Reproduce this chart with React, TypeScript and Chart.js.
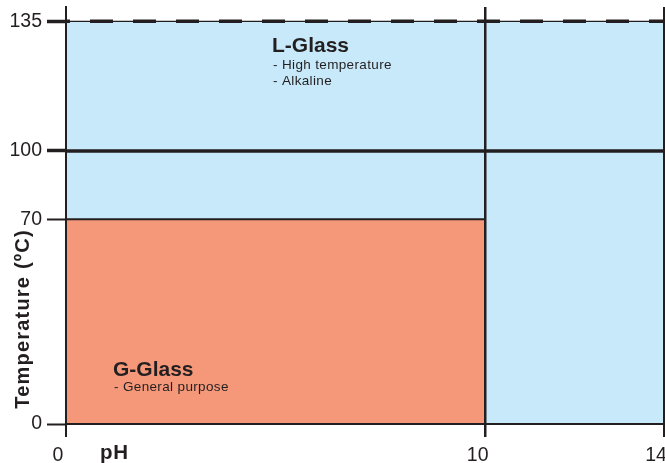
import { useEffect, useRef } from "react";
import { Chart, registerables, LinearScale } from "chart.js";

// ---- data ----
const X_TICKS = [0, 10, 14];
const Y_TICKS = [0, 70, 100, 135];
const PH_MIN = 0;
const PH_MAX = 14;
const TEMP_MIN = 0;
const TEMP_AXIS_TOP = 140;
const L_GLASS_PH = [0, 14];
const L_GLASS_TEMP = 135;
const G_GLASS_PH = [0, 10];
const G_GLASS_TEMP = 70;
const LIMIT_PH = [0, 14];
const LIMIT_TEMP = 100;
const L_GLASS_TITLE = "L-Glass";
const L_GLASS_NOTES = ["- High temperature", "- Alkaline"];
const G_GLASS_TITLE = "G-Glass";
const G_GLASS_NOTES = ["- General purpose"];
const X_TITLE = "pH";
const Y_TITLE = "Temperature (ºC)";

const BLUE = "#c7e9f9";
const SALMON = "#f5987a";
const INK = "#231f20";
const FONT = "'Liberation Sans', Arial, Helvetica, sans-serif";

// schematic (piecewise-linear) axis stops: [value, fraction of axis length]
const AXIS_STOPS: Record<string, [number, number][]> = {
  x: [[0, 0], [10, 0.7018], [14, 1]],
  y: [[0, 0], [70, 0.4909], [100, 0.6547], [135, 0.9657], [140, 1]],
};

function interp(stops: [number, number][], v: number, from: 0 | 1, to: 0 | 1) {
  for (let i = 1; i < stops.length; i++) {
    const a = stops[i - 1];
    const b = stops[i];
    if (v <= b[from] || i === stops.length - 1) {
      return a[to] + ((v - a[from]) / (b[from] - a[from])) * (b[to] - a[to]);
    }
  }
  return v;
}

class PiecewiseScale extends (LinearScale as any) {
  static id = "piecewise";
  static defaults = (LinearScale as any).defaults;
  getPixelForValue(value: any) {
    if (value === null || value === undefined || isNaN(value)) return NaN;
    const stops = AXIS_STOPS[this.id];
    return this.getPixelForDecimal(interp(stops, +value, 0, 1));
  }
  getValueForPixel(pixel: number) {
    const stops = AXIS_STOPS[this.id];
    return interp(stops, this.getDecimalForPixel(pixel), 1, 0);
  }
}

Chart.register(...registerables, PiecewiseScale as any);

const tickWidthY = (v: number) => (v === 135 ? 3.5 : v === 100 ? 3.5 : 2);
const gridWidthX = (v: number) => (v === 10 ? 2.5 : 2);

const textPlugin = {
  id: "glassText",
  afterDraw(chart: any) {
    const ctx = chart.ctx as CanvasRenderingContext2D;
    ctx.save();
    ctx.fillStyle = INK;
    ctx.textAlign = "left";
    ctx.textBaseline = "alphabetic";
    const put = (t: string, x: number, y: number, font: string, ls: string) => {
      ctx.font = font;
      (ctx as any).letterSpacing = ls;
      ctx.fillText(t, x, y);
    };
    put(L_GLASS_TITLE, 272, 52, `bold 21px ${FONT}`, "0px");
    L_GLASS_NOTES.forEach((t, i) => put(t, 273, 69 + i * 16, `13.5px ${FONT}`, "0.35px"));
    put(G_GLASS_TITLE, 113, 376, `bold 21px ${FONT}`, "0px");
    G_GLASS_NOTES.forEach((t, i) => put(t, 114, 391 + i * 16, `13.5px ${FONT}`, "0.35px"));
    put(X_TITLE, 100, 459, `bold 20.5px ${FONT}`, "0.8px");
    // y title
    ctx.translate(29, 319);
    ctx.rotate(-Math.PI / 2);
    ctx.textAlign = "center";
    ctx.font = `bold 20px ${FONT}`;
    (ctx as any).letterSpacing = "1.2px";
    ctx.fillText(Y_TITLE, 0, 0);
    ctx.restore();
  },
};

export default function App() {
  const ref = useRef<HTMLCanvasElement | null>(null);
  useEffect(() => {
    document.body.style.margin = "0";
    if (!ref.current) return;
    const line = (xs: number[], y: number, extra: any) => ({
      data: xs.map((x) => ({ x, y })),
      pointRadius: 0,
      tension: 0,
      clip: false,
      fill: false,
      borderColor: INK,
      ...extra,
    });
    const chart = new Chart(ref.current, {
      type: "line",
      data: {
        datasets: [
          line(L_GLASS_PH, L_GLASS_TEMP, { fill: "origin", backgroundColor: BLUE, borderWidth: 0, order: 10 }),
          line(G_GLASS_PH, G_GLASS_TEMP, { fill: "origin", backgroundColor: SALMON, borderWidth: 2, order: 9 }),
          line(LIMIT_PH, LIMIT_TEMP, { borderWidth: 3.5, order: 3 }),
          line(L_GLASS_PH, L_GLASS_TEMP, { borderWidth: 1.2, order: 2 }),
          line(L_GLASS_PH, L_GLASS_TEMP, { borderWidth: 3.5, borderDash: [23, 20], borderDashOffset: 19, order: 1 }),
        ],
      } as any,
      options: {
        animation: false,
        responsive: false,
        events: [],
        layout: { padding: { left: 0, right: 1, top: 7, bottom: 0 } },
        plugins: { legend: { display: false }, tooltip: { enabled: false } },
        scales: {
          x: {
            type: "piecewise" as any,
            min: PH_MIN,
            max: PH_MAX,
            afterBuildTicks: (s: any) => {
              s.ticks = X_TICKS.map((value) => ({ value }));
            },
            afterFit: (s: any) => {
              s.height = 39;
              s.paddingLeft = 0;
              s.paddingRight = 0;
            },
            ticks: {
              autoSkip: false,
              maxRotation: 0,
              padding: 7,
              labelOffset: -8,
              color: INK,
              font: { family: FONT, size: 19.5 },
            },
            grid: {
              z: 1,
              color: INK,
              drawOnChartArea: true,
              drawTicks: true,
              tickLength: 13,
              lineWidth: (c: any) => gridWidthX(c.tick ? c.tick.value : 0),
              tickWidth: (c: any) => gridWidthX(c.tick ? c.tick.value : 0),
              tickColor: INK,
            },
            border: { display: true, color: INK, width: 2, z: 1 },
          },
          y: {
            type: "piecewise" as any,
            min: TEMP_MIN,
            max: TEMP_AXIS_TOP,
            afterBuildTicks: (s: any) => {
              s.ticks = Y_TICKS.map((value) => ({ value }));
            },
            afterFit: (s: any) => {
              s.width = 66;
              s.paddingTop = 0;
              s.paddingBottom = 0;
            },
            ticks: {
              autoSkip: false,
              padding: 5,
              color: INK,
              font: { family: FONT, size: 19.5 },
            },
            grid: {
              z: 1,
              color: INK,
              drawOnChartArea: false,
              drawTicks: true,
              tickLength: 19,
              tickWidth: (c: any) => tickWidthY(c.tick ? c.tick.value : 0),
              tickColor: INK,
            },
            border: { display: true, color: INK, width: 2, z: 1 },
          },
        },
      } as any,
      plugins: [textPlugin],
    });
    return () => chart.destroy();
  }, []);
  return (
    <div style={{ width: 665, height: 463 }}>
      <canvas ref={ref} width={665} height={463} style={{ display: "block" }} />
    </div>
  );
}
